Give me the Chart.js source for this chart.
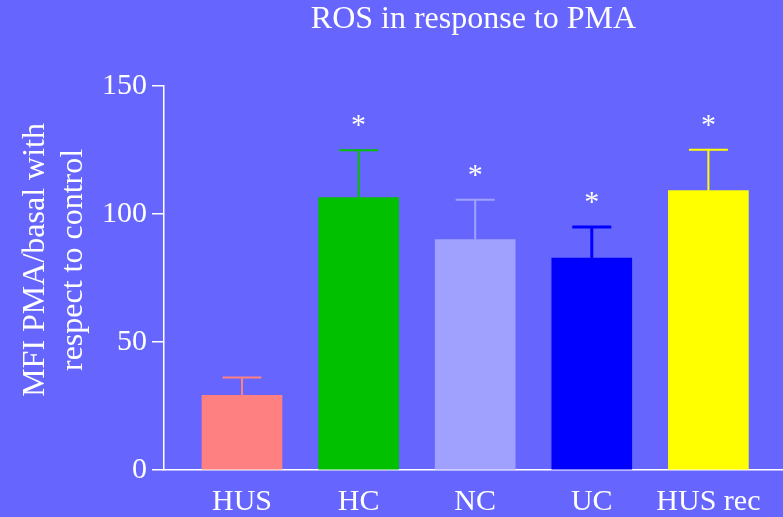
<!DOCTYPE html>
<html>
<head>
<meta charset="utf-8">
<script src="https://cdn.jsdelivr.net/npm/chart.js@4/dist/chart.umd.min.js"></script>
<style>
  html, body { margin: 0; padding: 0; background: #6666FF; }
  #wrap { width: 783px; height: 517px; }
</style>
</head>
<body>
<div id="wrap"><canvas id="c" width="783" height="517"></canvas></div>
<script>
const categories = ['HUS', 'HC', 'NC', 'UC', 'HUS rec'];
const means = [29.2, 106.4, 90.0, 82.8, 109.1];
const sems = [6.9, 18.5, 15.6, 12.1, 16.0];
const significance = ['', '*', '*', '*', '*'];
const barColors = ['#FF8080', '#00C000', '#A0A0FF', '#0000FF', '#FFFF00'];
const yTicks = [0, 50, 100, 150];
const chartTitle = 'ROS in response to PMA';
const yTitleLines = ['MFI PMA/basal with', 'respect to control'];

const FONT = "'Liberation Serif'";

const overlay = {
  id: 'overlay',
  afterDatasetsDraw(chart) {
    const ctx = chart.ctx;
    const xs = chart.scales.x, ys = chart.scales.y;
    ctx.save();
    means.forEach((m, i) => {
      const x = xs.getPixelForValue(i);
      const yb = ys.getPixelForValue(m);
      const yt = ys.getPixelForValue(m + sems[i]);
      ctx.strokeStyle = barColors[i];
      ctx.lineWidth = i === 3 ? 3 : 2;
      ctx.beginPath();
      ctx.moveTo(x, yb);
      ctx.lineTo(x, yt);
      ctx.moveTo(x - 19.5, yt);
      ctx.lineTo(x + 19.5, yt);
      ctx.stroke();
      if (significance[i]) {
        ctx.fillStyle = '#ffffff';
        ctx.font = '30px ' + FONT;
        ctx.textAlign = 'center';
        ctx.textBaseline = 'alphabetic';
        ctx.fillText(significance[i], x, yt - 16);
      }
    });
    ctx.restore();
  },
  afterDraw(chart) {
    const ctx = chart.ctx;
    const ys = chart.scales.y;
    ctx.save();
    ctx.fillStyle = '#ffffff';
    ctx.font = '32px ' + FONT;
    ctx.textAlign = 'center';
    ctx.textBaseline = 'alphabetic';
    const cy = ys.top + (ys.bottom - ys.top) * 0.453;
    [44, 82].forEach((bx, k) => {
      ctx.save();
      ctx.translate(bx, cy);
      ctx.rotate(-Math.PI / 2);
      ctx.fillText(yTitleLines[k], 0, 0);
      ctx.restore();
    });
    ctx.restore();
  }
};

new Chart(document.getElementById('c'), {
  type: 'bar',
  data: {
    datasets: [{
      data: means.map((v, i) => ({ x: i, y: v })),
      backgroundColor: barColors,
      borderWidth: 0,
      barThickness: 80
    }]
  },
  options: {
    responsive: false,
    animation: false,
    layout: { padding: { left: 0, right: 0, top: 0, bottom: 0 } },
    plugins: {
      legend: { display: false },
      tooltip: { enabled: false },
      title: {
        display: true,
        text: chartTitle,
        fullSize: false,
        color: '#ffffff',
        font: { family: FONT, size: 32, weight: 'normal' },
        padding: { top: 0, bottom: 47.6 }
      }
    },
    scales: {
      x: {
        type: 'linear',
        offset: false,
        min: -0.669,
        max: 4.64,
        afterBuildTicks: s => { s.ticks = categories.map((c, i) => ({ value: i })); },
        afterFit: s => { s.height = 47; },
        ticks: {
          autoSkip: false,
          maxRotation: 0,
          color: '#ffffff',
          font: { family: FONT, size: 30 },
          padding: 14,
          callback: v => categories[v]
        },
        grid: { display: false, drawTicks: false },
        border: { display: true, color: '#ffffff', width: 1.5 }
      },
      y: {
        min: 0,
        max: 150,
        afterBuildTicks: s => { s.ticks = yTicks.map(v => ({ value: v })); },
        afterFit: s => { s.width = 164; },
        ticks: {
          color: '#ffffff',
          font: { family: FONT, size: 30 },
          padding: 5
        },
        grid: { display: true, drawOnChartArea: false, drawTicks: true, tickLength: 12, color: '#ffffff', lineWidth: 1.5 },
        border: { display: true, color: '#ffffff', width: 1.5 }
      }
    }
  },
  plugins: [overlay]
});
</script>
</body>
</html>
